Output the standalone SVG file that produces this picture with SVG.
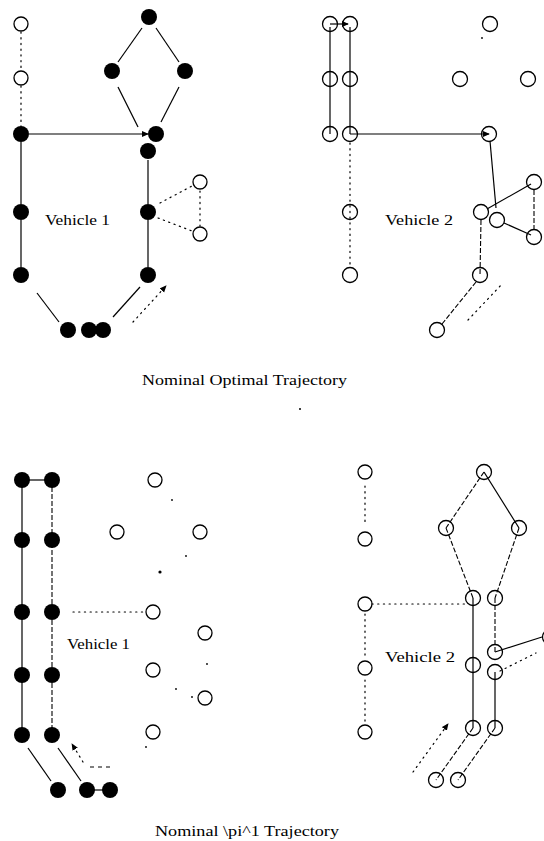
<svg xmlns="http://www.w3.org/2000/svg" width="544" height="841" viewBox="0 0 544 841">
  <style>
    .bg { fill: #ffffff; }
    .f { fill: #000; }
    .o { fill: none; stroke: #000; stroke-width: 1.3; }
    .s { fill: none; stroke: #000; stroke-width: 1.2; }
    .d { fill: none; stroke: #000; stroke-width: 1.2; stroke-dasharray: 1.2 4.5; stroke-linecap: round; }
    .k { fill: none; stroke: #000; stroke-width: 1.1; stroke-dasharray: 5 2; }
    .lbl { font-family: "Liberation Serif", "Times New Roman", serif; font-size: 15px; fill: #000; }
    .cap { font-family: "Liberation Serif", "Times New Roman", serif; font-size: 15px; fill: #000; }
  </style>
  <defs>
    <marker id="ah" viewBox="0 0 8 8" refX="7" refY="4" markerWidth="7" markerHeight="7" orient="auto" markerUnits="userSpaceOnUse">
      <path d="M0,0.5 L8,4 L0,7.5 Z" fill="#000"/>
    </marker>
  </defs>
  <rect class="bg" x="0" y="0" width="544" height="841"/>

  <!-- connectors -->
  <g id="connectors">
    <!-- upper left: vehicle 1 -->
    <line class="d" x1="21" y1="32" x2="21" y2="70"/>
    <line class="d" x1="21" y1="86" x2="21" y2="126"/>
    <line class="s" x1="29" y1="134" x2="148" y2="134" marker-end="url(#ah)"/>
    <line class="s" x1="142" y1="28" x2="118" y2="62"/>
    <line class="s" x1="156" y1="28" x2="179" y2="62"/>
    <line class="s" x1="118" y1="87" x2="138" y2="127"/>
    <line class="s" x1="179" y1="87" x2="161" y2="122"/>
    <line class="s" x1="21" y1="142" x2="21" y2="204"/>
    <line class="s" x1="21" y1="220" x2="21" y2="267"/>
    <line class="s" x1="148" y1="160" x2="148" y2="204"/>
    <line class="s" x1="148" y1="220" x2="148" y2="267"/>
    <line class="s" x1="37" y1="293" x2="59" y2="322"/>
    <line class="s" x1="140" y1="287" x2="113" y2="317"/>
    <line class="d" x1="133" y1="322" x2="166" y2="286" marker-end="url(#ah)"/>
    <line class="d" x1="160" y1="203" x2="192" y2="186"/>
    <line class="d" x1="200" y1="191" x2="200" y2="226"/>
    <line class="d" x1="158" y1="218" x2="192" y2="231"/>

    <!-- upper right: vehicle 2 -->
    <line class="s" x1="330" y1="24" x2="348" y2="24" marker-end="url(#ah)"/>
    <line class="s" x1="330" y1="27" x2="330" y2="134"/>
    <line class="s" x1="350" y1="27" x2="350" y2="134"/>
    <line class="s" x1="350" y1="134" x2="489" y2="134" marker-end="url(#ah)"/>
    <line class="d" x1="350" y1="143" x2="350" y2="267"/>
    <line class="s" x1="490" y1="141" x2="496" y2="208"/>
    <line class="s" x1="487" y1="209" x2="531" y2="184"/>
    <line class="s" x1="504" y1="223" x2="531" y2="235"/>
    <line class="k" x1="534" y1="190" x2="534" y2="229"/>
    <line class="k" x1="481" y1="220" x2="480" y2="275"/>
    <line class="k" x1="476" y1="282" x2="442" y2="324"/>
    <line class="d" x1="468" y1="320" x2="503" y2="283"/>
    <circle class="f" cx="482" cy="38" r="0.9"/>

    <!-- lower left: vehicle 1 -->
    <line class="s" x1="22" y1="480" x2="52" y2="480"/>
    <line class="s" x1="22" y1="480" x2="22" y2="735"/>
    <line class="k" x1="52" y1="480" x2="52" y2="735"/>
    <line class="s" x1="28" y1="748" x2="51" y2="781"/>
    <line class="s" x1="58" y1="748" x2="81" y2="781"/>
    <line class="s" x1="87" y1="790" x2="110" y2="790"/>
    <line class="k" x1="110" y1="767" x2="86" y2="767" style="stroke-dasharray: 4 4"/>
    <line class="d" x1="83" y1="762" x2="72" y2="744" marker-end="url(#ah)"/>
    <line class="d" x1="73" y1="612" x2="145" y2="612"/>
    <circle class="f" cx="172" cy="500" r="0.9"/>
    <circle class="f" cx="186" cy="556" r="0.9"/>
    <circle class="f" cx="160" cy="572" r="1.6"/>
    <circle class="f" cx="207" cy="664" r="0.9"/>
    <circle class="f" cx="176" cy="689" r="0.9"/>
    <circle class="f" cx="192" cy="697" r="0.9"/>
    <circle class="f" cx="146" cy="747" r="0.9"/>

    <!-- lower right: vehicle 2 -->
    <line class="k" x1="484" y1="472" x2="446" y2="528"/>
    <line class="s" x1="484" y1="472" x2="519" y2="528"/>
    <line class="k" x1="446" y1="528" x2="473" y2="598"/>
    <line class="k" x1="519" y1="528" x2="495" y2="598"/>
    <line class="s" x1="473" y1="598" x2="473" y2="728"/>
    <line class="k" x1="495" y1="598" x2="495" y2="652"/>
    <line class="s" x1="495" y1="672" x2="495" y2="728"/>
    <line class="s" x1="495" y1="652" x2="542" y2="637"/>
    <line class="d" x1="500" y1="671" x2="536" y2="653"/>
    <line class="k" x1="473" y1="728" x2="436" y2="780"/>
    <line class="k" x1="495" y1="728" x2="458" y2="780"/>
    <line class="d" x1="372" y1="604" x2="465" y2="604"/>
    <line class="d" x1="365" y1="486" x2="365" y2="524"/>
    <line class="d" x1="365" y1="614" x2="365" y2="658"/>
    <line class="d" x1="365" y1="680" x2="365" y2="722"/>
    <line class="d" x1="413" y1="772" x2="448" y2="724" marker-end="url(#ah)"/>

    <circle class="f" cx="300" cy="409" r="1"/>
  </g>

  <!-- upper left nodes -->
  <g id="v1a-n1"><circle class="o" cx="21" cy="24" r="7"/></g>
  <g id="v1a-n2"><circle class="o" cx="21" cy="78" r="7"/></g>
  <g id="v1a-n3"><circle class="f" cx="21" cy="134" r="8"/></g>
  <g id="v1a-n4"><circle class="f" cx="21" cy="212" r="8"/></g>
  <g id="v1a-n5"><circle class="f" cx="21" cy="275" r="8"/></g>
  <g id="v1a-n6"><circle class="f" cx="68" cy="330" r="8"/></g>
  <g id="v1a-n7"><circle class="f" cx="89" cy="330" r="8"/></g>
  <g id="v1a-n8"><circle class="f" cx="103" cy="330" r="8"/></g>
  <g id="v1a-n9"><circle class="f" cx="149" cy="17" r="8"/></g>
  <g id="v1a-n10"><circle class="f" cx="112" cy="71" r="8"/></g>
  <g id="v1a-n11"><circle class="f" cx="185" cy="71" r="8"/></g>
  <g id="v1a-n12"><circle class="f" cx="156" cy="134" r="8"/></g>
  <g id="v1a-n13"><circle class="f" cx="148" cy="151" r="8"/></g>
  <g id="v1a-n14"><circle class="f" cx="148" cy="212" r="8"/></g>
  <g id="v1a-n15"><circle class="f" cx="148" cy="275" r="8"/></g>
  <g id="v1a-n16"><circle class="o" cx="200" cy="182" r="7"/></g>
  <g id="v1a-n17"><circle class="o" cx="200" cy="234" r="7"/></g>
  <g id="v1a-label"><text class="lbl" x="45" y="225" textLength="65" lengthAdjust="spacingAndGlyphs">Vehicle 1</text></g>

  <!-- upper right nodes -->
  <g id="v2a-n1"><circle class="o" cx="330" cy="24" r="7.5"/></g>
  <g id="v2a-n2"><circle class="o" cx="350" cy="24" r="7.5"/></g>
  <g id="v2a-n3"><circle class="o" cx="330" cy="79" r="7.5"/></g>
  <g id="v2a-n4"><circle class="o" cx="350" cy="79" r="7.5"/></g>
  <g id="v2a-n5"><circle class="o" cx="330" cy="134" r="7.5"/></g>
  <g id="v2a-n6"><circle class="o" cx="350" cy="134" r="7.5"/></g>
  <g id="v2a-n7"><circle class="o" cx="350" cy="212" r="7.5"/></g>
  <g id="v2a-n8"><circle class="o" cx="350" cy="275" r="7.5"/></g>
  <g id="v2a-n9"><circle class="o" cx="490" cy="24" r="7.5"/></g>
  <g id="v2a-n10"><circle class="o" cx="460" cy="79" r="7.5"/></g>
  <g id="v2a-n11"><circle class="o" cx="528" cy="79" r="7.5"/></g>
  <g id="v2a-n12"><circle class="o" cx="489" cy="134" r="7.5"/></g>
  <g id="v2a-n13"><circle class="o" cx="481" cy="212" r="7.5"/></g>
  <g id="v2a-n14"><circle class="o" cx="497" cy="220" r="7.5"/></g>
  <g id="v2a-n15"><circle class="o" cx="534" cy="182" r="7.5"/></g>
  <g id="v2a-n16"><circle class="o" cx="534" cy="237" r="7.5"/></g>
  <g id="v2a-n17"><circle class="o" cx="480" cy="275" r="7.5"/></g>
  <g id="v2a-n18"><circle class="o" cx="437" cy="330" r="7.5"/></g>
  <g id="v2a-label"><text class="lbl" x="385" y="225" textLength="68" lengthAdjust="spacingAndGlyphs">Vehicle 2</text></g>

  <g id="caption-top"><text class="cap" x="142" y="385" textLength="205" lengthAdjust="spacingAndGlyphs">Nominal Optimal Trajectory</text></g>

  <!-- lower left nodes -->
  <g id="v1b-n1"><circle class="f" cx="22" cy="480" r="8"/></g>
  <g id="v1b-n2"><circle class="f" cx="52" cy="480" r="8"/></g>
  <g id="v1b-n3"><circle class="f" cx="22" cy="540" r="8"/></g>
  <g id="v1b-n4"><circle class="f" cx="52" cy="540" r="8"/></g>
  <g id="v1b-n5"><circle class="f" cx="22" cy="612" r="8"/></g>
  <g id="v1b-n6"><circle class="f" cx="52" cy="612" r="8"/></g>
  <g id="v1b-n7"><circle class="f" cx="22" cy="675" r="8"/></g>
  <g id="v1b-n8"><circle class="f" cx="52" cy="675" r="8"/></g>
  <g id="v1b-n9"><circle class="f" cx="22" cy="735" r="8"/></g>
  <g id="v1b-n10"><circle class="f" cx="52" cy="735" r="8"/></g>
  <g id="v1b-n11"><circle class="f" cx="58" cy="790" r="8"/></g>
  <g id="v1b-n12"><circle class="f" cx="87" cy="790" r="8"/></g>
  <g id="v1b-n13"><circle class="f" cx="110" cy="790" r="8"/></g>
  <g id="v1b-n14"><circle class="o" cx="155" cy="480" r="7"/></g>
  <g id="v1b-n15"><circle class="o" cx="117" cy="532" r="7"/></g>
  <g id="v1b-n16"><circle class="o" cx="200" cy="532" r="7"/></g>
  <g id="v1b-n17"><circle class="o" cx="153" cy="612" r="7"/></g>
  <g id="v1b-n18"><circle class="o" cx="205" cy="633" r="7"/></g>
  <g id="v1b-n19"><circle class="o" cx="153" cy="670" r="7"/></g>
  <g id="v1b-n20"><circle class="o" cx="205" cy="698" r="7"/></g>
  <g id="v1b-n21"><circle class="o" cx="153" cy="732" r="7"/></g>
  <g id="v1b-label"><text class="lbl" x="67" y="649" textLength="63" lengthAdjust="spacingAndGlyphs">Vehicle 1</text></g>

  <!-- lower right nodes -->
  <g id="v2b-n1"><circle class="o" cx="365" cy="472" r="7"/></g>
  <g id="v2b-n2"><circle class="o" cx="365" cy="539" r="7"/></g>
  <g id="v2b-n3"><circle class="o" cx="365" cy="604" r="7"/></g>
  <g id="v2b-n4"><circle class="o" cx="365" cy="668" r="7"/></g>
  <g id="v2b-n5"><circle class="o" cx="365" cy="732" r="7"/></g>
  <g id="v2b-n6"><circle class="o" cx="484" cy="472" r="7.5"/></g>
  <g id="v2b-n7"><circle class="o" cx="446" cy="528" r="7.5"/></g>
  <g id="v2b-n8"><circle class="o" cx="519" cy="528" r="7.5"/></g>
  <g id="v2b-n9"><circle class="o" cx="473" cy="598" r="7.5"/></g>
  <g id="v2b-n10"><circle class="o" cx="495" cy="598" r="7.5"/></g>
  <g id="v2b-n11"><circle class="o" cx="473" cy="665" r="7.5"/></g>
  <g id="v2b-n12"><circle class="o" cx="495" cy="652" r="7.5"/></g>
  <g id="v2b-n13"><circle class="o" cx="495" cy="672" r="7.5"/></g>
  <g id="v2b-n14"><circle class="o" cx="473" cy="728" r="7.5"/></g>
  <g id="v2b-n15"><circle class="o" cx="495" cy="728" r="7.5"/></g>
  <g id="v2b-n16"><circle class="o" cx="436" cy="780" r="7.5"/></g>
  <g id="v2b-n17"><circle class="o" cx="458" cy="780" r="7.5"/></g>
  <g id="v2b-n18"><circle class="o" cx="550" cy="637" r="7.5"/></g>
  <g id="v2b-label"><text class="lbl" x="385" y="662" textLength="70" lengthAdjust="spacingAndGlyphs">Vehicle 2</text></g>

  <g id="caption-bottom"><text class="cap" x="155" y="836" textLength="184" lengthAdjust="spacingAndGlyphs">Nominal \pi^1 Trajectory</text></g>
</svg>
